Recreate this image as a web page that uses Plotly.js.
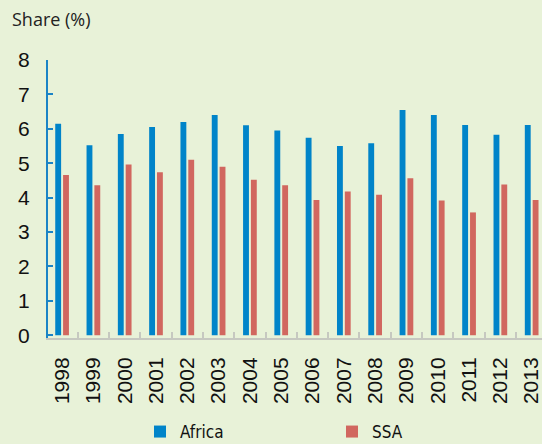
<!DOCTYPE html>
<html>
<head>
<meta charset="utf-8">
<script src="https://cdn.plot.ly/plotly-3.0.1.min.js"></script>
<style>
html,body{margin:0;padding:0;background:#e8f2d8;overflow:hidden;}
#chart{width:542px;height:444px;}
</style>
</head>
<body>
<div id="chart"></div>
<script>
const years = ["1998","1999","2000","2001","2002","2003","2004","2005","2006","2007","2008","2009","2010","2011","2012","2013"];
const africa = [6.15,5.52,5.85,6.05,6.2,6.4,6.1,5.95,5.74,5.5,5.58,6.55,6.4,6.11,5.83,6.11];
const ssa = [4.66,4.36,4.96,4.74,5.1,4.9,4.52,4.36,3.93,4.18,4.08,4.56,3.92,3.57,4.38,3.93];
const yTicks = [0,1,2,3,4,5,6,7,8];

const traces = [
  {type:"bar", name:"Africa", x:years, y:africa, marker:{color:"#0084c9"}},
  {type:"bar", name:"SSA", x:years, y:ssa, marker:{color:"#d1675f"}}
];

const layout = {
  width:542, height:444,
  margin:{l:48, r:0, t:60, b:106, pad:0},
  paper_bgcolor:"#e8f2d8", plot_bgcolor:"#e8f2d8",
  barmode:"group", bargap:0.5, bargroupgap:0.25,
  title:{text:"Share (%)", x:12/542, xanchor:"left", xref:"container",
         y:1-19.5/444, yanchor:"middle", yref:"container",
         font:{family:"Open Sans", size:18, color:"#222"}},
  xaxis:{type:"category", range:[-0.45, 15.33], tickson:"boundaries",
         ticks:"inside", ticklen:6, tickwidth:2, tickcolor:"#c6c8c0",
         showline:true, linecolor:"#c6c8c0", linewidth:2,
         tickangle:-90, ticklabelstandoff:9,
         tickfont:{family:"Liberation Sans", size:21, color:"#111"},
         showgrid:false, zeroline:false, fixedrange:true},
  yaxis:{range:[-0.08, 8], tickvals:yTicks, ticktext:yTicks.map(String),
         ticks:"inside", ticklen:5, tickwidth:2, tickcolor:"#1b84c6",
         showline:true, linecolor:"#1b84c6", linewidth:2,
         ticklabelstandoff:12,
         tickfont:{family:"Liberation Sans", size:21, color:"#111"},
         showgrid:false, zeroline:false, fixedrange:true},
  showlegend:true,
  legend:{orientation:"h", xref:"container", yref:"container",
          x:140/542, xanchor:"left", y:1-414/444, yanchor:"top",
          entrywidth:147, entrywidthmode:"pixels",
          font:{family:"DejaVu Sans Condensed", size:17, color:"#111"},
          bgcolor:"rgba(0,0,0,0)"}
};

Plotly.newPlot("chart", traces, layout, {displayModeBar:false, staticPlot:true});
</script>
</body>
</html>
